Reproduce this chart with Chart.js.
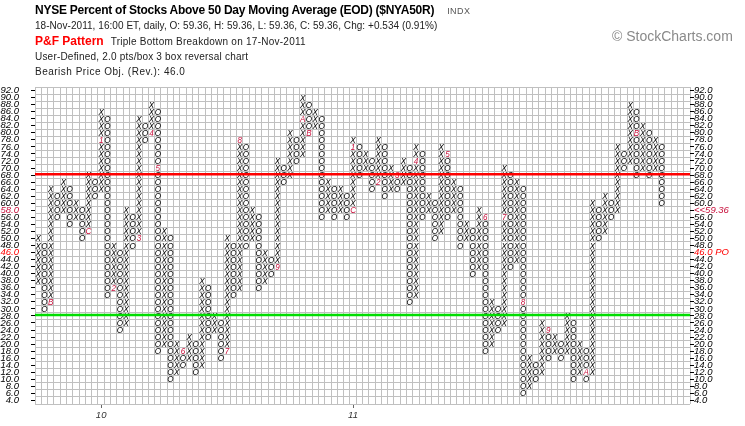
<!DOCTYPE html>
<html>
<head>
<meta charset="utf-8">
<script src="https://cdn.jsdelivr.net/npm/chart.js@4.4.1/dist/chart.umd.min.js"></script>
<style>
  body { margin: 0; background: #fff; }
  #wrap { position: relative; width: 745px; height: 426px; overflow: hidden; font-family: "Liberation Sans", Arial, sans-serif; }
  #pnf { position: absolute; left: 0; top: 0; }
  .hd { position: absolute; white-space: nowrap; color: #222; }
  #title { left: 35px; top: 3px; font-size: 12px; font-weight: bold; color: #000; letter-spacing: -0.25px; }
  #title span { font-size: 9px; font-weight: normal; color: #555; margin-left: 13px; letter-spacing: 0.4px; }
  #quote { left: 35px; top: 20px; font-size: 10px; letter-spacing: 0.05px; }
  #pattern { left: 35px; top: 34px; font-size: 12px; font-weight: bold; color: #ff0000; }
  #pattern span { font-size: 10px; font-weight: normal; color: #222; margin-left: 7px; letter-spacing: 0.25px; }
  #boxinfo { left: 35px; top: 51px; font-size: 10px; letter-spacing: 0.2px; }
  #objective { left: 35px; top: 66px; font-size: 10px; letter-spacing: 0.5px; }
  #brand { left: 612px; top: 28px; font-size: 14px; color: #8a8a8a; }
</style>
</head>
<body>
<div id="wrap">
  <canvas id="pnf" width="745" height="426"></canvas>
  <div class="hd" id="title">NYSE Percent of Stocks Above 50 Day Moving Average (EOD) ($NYA50R)<span>INDX</span></div>
  <div class="hd" id="quote">18-Nov-2011, 16:00 ET, daily, O: 59.36, H: 59.36, L: 59.36, C: 59.36, Chg: +0.534 (0.91%)</div>
  <div class="hd" id="pattern">P&amp;F Pattern<span>Triple Bottom Breakdown on 17-Nov-2011</span></div>
  <div class="hd" id="boxinfo">User-Defined, 2.0 pts/box 3 box reversal chart</div>
  <div class="hd" id="objective">Bearish Price Obj. (Rev.): 46.0</div>
  <div class="hd" id="brand">&copy; StockCharts.com</div>
</div>
<script>
// P&F columns, left to right: type, lowest box, highest box
const colType = ['X','O','X','O','X','O','X','O','X','O',
                 'X','O','X','O','X','O','X','O','X','O',
                 'X','O','X','O','X','O','X','O','X','O',
                 'X','O','X','O','X','O','X','O','X','O',
                 'X','O','X','O','X','O','X','O','X','O',
                 'X','O','X','O','X','O','X','O','X','O',
                 'X','O','X','O','X','O','X','O','X','O',
                 'X','O','X','O','X','O','X','O','X','O',
                 'X','O','X','O','X','O','X','O','X','O',
                 'X','O','X','O','X','O','X','O','X','O'];
const colLow  = [38,30,32,56,58,54,56,50,52,62, 64,34,36,24,26,48,50,78,80,18,
                 20,10,12,14,16,12,14,22,24,16, 18,34,36,48,50,36,38,40,42,66,
                 68,72,74,80,82,56,58,56,58,56, 58,68,70,64,66,62,64,64,66,32,
                 34,56,58,50,52,56,58,48,50,40, 42,18,20,24,26,42,44,6,8,10,
                 12,16,18,16,18,10,12,10,12,50, 52,56,58,70,72,68,70,68,70,60];
const colHigh = [50,48,64,62,66,64,60,58,68,66, 86,84,48,46,58,56,84,82,88,86,
                 52,50,20,18,22,20,38,36,28,26, 50,48,78,76,58,56,46,44,72,70,
                 80,78,90,88,86,84,66,64,64,62, 78,76,74,72,78,76,70,68,72,70,
                 76,74,62,60,76,74,66,64,54,52, 58,56,32,30,70,68,66,64,16,14,
                 26,24,22,20,28,26,20,18,60,58, 62,60,76,74,88,86,82,80,78,76];

// month markers (1-9, A=Oct, B=Nov, C=Dec) that replace a box
const markerCol  = [2, 8, 10, 12, 16, 18, 19, 23, 30, 32, 38, 42, 43, 50, 50, 54, 57, 60, 65, 71, 74, 77, 81, 87, 95];
const markerBox  = [32,52,78, 36, 50, 80, 70, 18, 18, 78, 42, 84, 80, 58, 76, 66, 68, 72, 74, 56, 56, 32, 24, 12, 80];
const markerText = ['B','C','1','2','3','4','5','6','7','8','9','A','B','C','1','2','3','4','5','6','7','8','9','A','B'];

const boxSize = 2;
const yTicks = [4,6,8,10,12,14,16,18,20,22,24,26,28,30,32,34,36,38,40,42,44,
                46,48,50,52,54,56,58,60,62,64,66,68,70,72,74,76,78,80,82,84,86,88,90,92];
const yearLabels = ['10', '11'];
const yearCols = [10, 50];
const lastBox = 58, lastPriceText = '<<59.36';
const objectiveBox = 46, objectiveText = '46.0 PO';
const redLevel = 68.2;
const greenLevel = 28.3;

const nCols = 104;
const markerRed = '#c8103c';

const xBoxes = [], oBoxes = [], markBoxes = [];
colType.forEach((t, i) => {
  for (let v = colLow[i]; v <= colHigh[i]; v += boxSize) {
    let m = -1;
    markerCol.forEach((c, k) => { if (c === i && markerBox[k] === v) m = k; });
    if (m >= 0) markBoxes.push({ x: i + 0.5, y: v, t: markerText[m] });
    else (t === 'X' ? xBoxes : oBoxes).push({ x: i + 0.5, y: v });
  }
});

const glyphFont = 'italic 9px "Liberation Sans", Arial, sans-serif';
const labelFont = { family: '"Liberation Sans", Arial, sans-serif', size: 9.5, style: 'italic' };

// writes each box as a letter at the point the scales gave it
const pnfGlyphs = {
  id: 'pnfGlyphs',
  beforeDatasetsDraw(chart) {
    const ctx = chart.ctx;
    ctx.save();
    ctx.font = glyphFont;
    ctx.textAlign = 'center';
    ctx.textBaseline = 'middle';
    chart.data.datasets.forEach((ds, di) => {
      if (!ds.glyph) return;
      const meta = chart.getDatasetMeta(di);
      ctx.fillStyle = ds.glyphColor;
      meta.data.forEach((pt, i) => {
        const txt = ds.glyph === 'marker' ? ds.data[i].t : ds.glyph;
        ctx.save();
        ctx.translate(pt.x, pt.y + 0.5);
        ctx.scale(0.9, 1);
        ctx.fillText(txt, 0, 0);
        ctx.restore();
      });
    });
    ctx.restore();
  }
};

const edge = (x) => [{ x: 0, y: x }, { x: nCols, y: x }];
const labelColor = c => c.tick.value === lastBox ? markerRed : (c.tick.value === objectiveBox ? '#ff0000' : '#000');

new Chart(document.getElementById('pnf'), {
  type: 'scatter',
  data: {
    datasets: [
      { label: 'X', data: xBoxes, glyph: 'X', glyphColor: '#000', pointRadius: 0 },
      { label: 'O', data: oBoxes, glyph: 'O', glyphColor: '#000', pointRadius: 0 },
      { label: 'month', data: markBoxes, glyph: 'marker', glyphColor: markerRed, pointRadius: 0 },
      { type: 'line', label: 'upper', data: edge(redLevel), borderColor: '#ff0000', borderWidth: 2.5, pointRadius: 0 },
      { type: 'line', label: 'lower', data: edge(greenLevel), borderColor: '#00dd00', borderWidth: 2.5, pointRadius: 0 }
    ]
  },
  options: {
    responsive: false,
    animation: false,
    events: [],
    layout: { padding: { top: 87, left: 0, right: 0, bottom: 0 } },
    plugins: { legend: { display: false }, tooltip: { enabled: false } },
    scales: {
      x: {
        type: 'linear', position: 'bottom', min: 0, max: nCols,
        ticks: { display: false, stepSize: 1 },
        grid: { color: '#c0c0c0', drawTicks: false, lineWidth: 1 },
        border: { display: false },
        afterFit: s => { s.height = 0; }
      },
      xYear: {
        type: 'linear', position: 'bottom', min: 0, max: nCols,
        afterBuildTicks: s => { s.ticks = yearCols.map(c => ({ value: c + 0.5 })); },
        ticks: {
          autoSkip: false, padding: 2, color: '#333', font: labelFont, maxRotation: 0,
          callback: (v, i) => yearLabels[i]
        },
        grid: { drawOnChartArea: false, drawTicks: true, tickLength: 4, tickColor: '#666' },
        border: { display: false },
        afterFit: s => { s.height = 22; }
      },
      y: {
        type: 'linear', position: 'left', min: 3, max: 93,
        ticks: { display: false, stepSize: 2 },
        grid: { color: '#c0c0c0', drawTicks: false, lineWidth: 1 },
        border: { display: false },
        afterFit: s => { s.width = 0; }
      },
      yLeft: {
        type: 'linear', position: 'left', min: 3, max: 93,
        afterBuildTicks: s => { s.ticks = yTicks.map(v => ({ value: v })); },
        ticks: {
          autoSkip: false, padding: 12, font: labelFont, color: labelColor,
          callback: v => v.toFixed(1)
        },
        grid: { drawOnChartArea: false, drawTicks: true, tickLength: 4, tickColor: '#000' },
        border: { display: false },
        afterFit: s => { s.width = 35; }
      },
      yRight: {
        type: 'linear', position: 'right', min: 3, max: 93,
        afterBuildTicks: s => { s.ticks = yTicks.map(v => ({ value: v })); },
        ticks: {
          autoSkip: false, padding: 0, font: labelFont, color: labelColor,
          callback: v => v === lastBox ? lastPriceText : (v === objectiveBox ? objectiveText : v.toFixed(1))
        },
        grid: { drawOnChartArea: false, drawTicks: true, tickLength: 4, tickColor: '#000' },
        border: { display: false },
        afterFit: s => { s.width = 55; }
      }
    }
  },
  plugins: [pnfGlyphs]
});
</script>
</body>
</html>
